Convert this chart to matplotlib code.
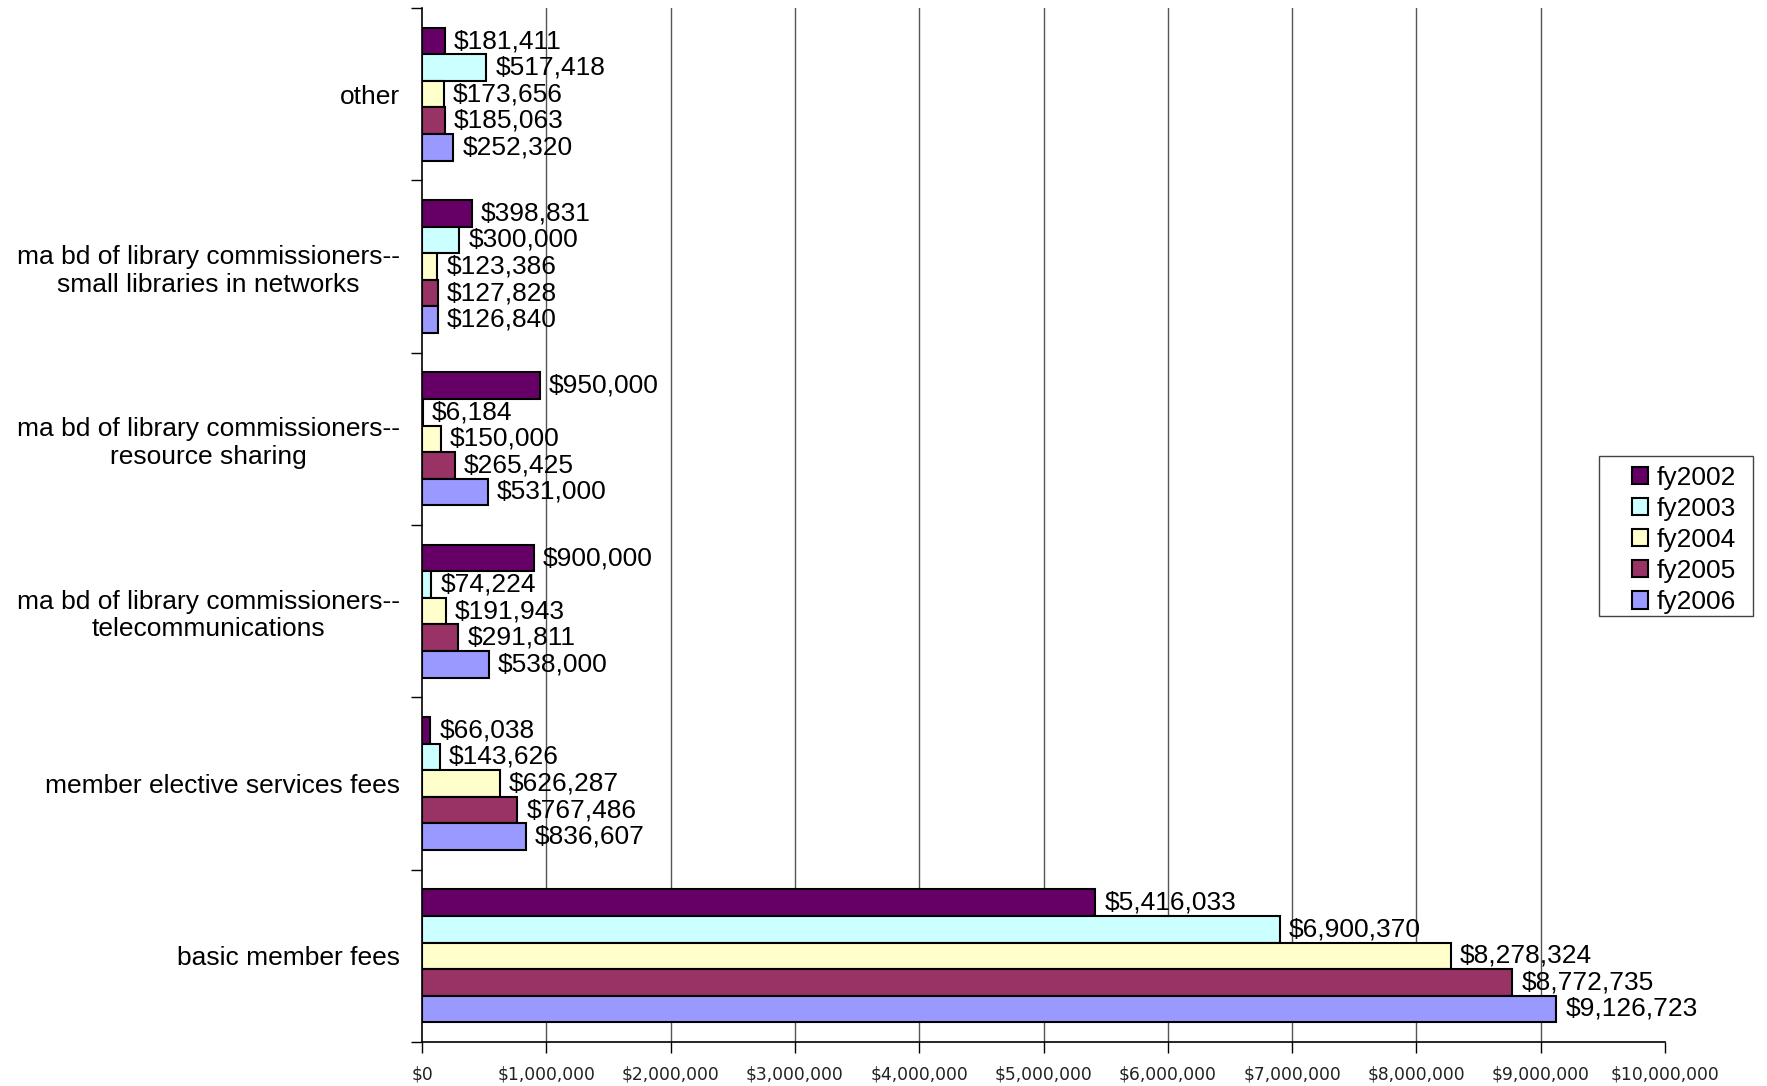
import matplotlib
matplotlib.use('Agg')
import matplotlib.pyplot as plt
import matplotlib.patches as mpatches
import numpy as np
from matplotlib.ticker import FuncFormatter, FixedLocator

# categories bottom to top
categories = ['basic member fees',
              'member elective services fees',
              'ma bd of library commissioners--\ntelecommunications',
              'ma bd of library commissioners--\nresource sharing',
              'ma bd of library commissioners--\nsmall libraries in networks',
              'other']
years = ['fy2002', 'fy2003', 'fy2004', 'fy2005', 'fy2006']
fy2002 = [5416033, 66038, 900000, 950000, 398831, 181411]
fy2003 = [6900370, 143626, 74224, 6184, 300000, 517418]
fy2004 = [8278324, 626287, 191943, 150000, 123386, 173656]
fy2005 = [8772735, 767486, 291811, 265425, 127828, 185063]
fy2006 = [9126723, 836607, 538000, 531000, 126840, 252320]
series = [fy2002, fy2003, fy2004, fy2005, fy2006]
colors = ['#660066', '#CCFFFF', '#FFFFCC', '#993366', '#9999FF']

plt.rcParams['font.family'] = ['Liberation Sans', 'DejaVu Sans']

W, H = 1767, 1086
fig = plt.figure(figsize=(W / 100, H / 100), dpi=100)
ax = fig.add_axes([422 / W, 1 - 1042 / H, (1665 - 422) / W, (1042 - 8) / H])

y = np.arange(len(categories))
h = 0.154
for k, (vals, col, lab) in enumerate(zip(series, colors, years)):
    pos = y + (2 - k) * h
    ax.barh(pos, vals, height=h, color=col, edgecolor='black',
            linewidth=1.5, label=lab, zorder=3)
    for yy, v in zip(pos, vals):
        ax.annotate('${:,}'.format(v), (v, yy), xytext=(6.5, 0),
                    textcoords='offset points', va='center', ha='left',
                    fontsize=19, zorder=4, annotation_clip=False)

ax.set_xlim(0, 10000000)
ax.set_ylim(-0.5, len(categories) - 0.5)

ax.xaxis.set_major_locator(FixedLocator(np.arange(0, 10000001, 1000000)))
ax.xaxis.set_major_formatter(FuncFormatter(lambda v, p: '${:,.0f}'.format(v)))
ax.tick_params(axis='x', direction='out', length=8, width=1, pad=9,
               labelsize=12.3)
for t in ax.get_xticklabels():
    t.set_family(['Liberation Sans Narrow', 'DejaVu Sans Condensed', 'DejaVu Sans'])
    t.set_color('#222222')

ax.set_yticks(y)
ax.set_yticklabels(categories, fontsize=19, multialignment='center')
ax.set_yticks(np.arange(-0.5, len(categories), 1.0), minor=True)
ax.tick_params(axis='y', which='major', length=0, pad=16)
ax.tick_params(axis='y', which='minor', direction='out', length=8, width=1)

# vertical grid lines only, none on the last tick
for gx in range(1000000, 10000000, 1000000):
    ax.axvline(gx, color='#555555', linewidth=1, zorder=1)

ax.spines['top'].set_visible(False)
ax.spines['right'].set_visible(False)
ax.spines['left'].set_linewidth(1.2)
ax.spines['bottom'].set_linewidth(1.2)

# legend frame drawn separately (Excel style, wide left padding)
frame = mpatches.Rectangle((1599 / W, 1 - 616 / H), (1753 - 1599) / W, 160 / H,
                           transform=fig.transFigure, facecolor='white',
                           edgecolor='#444444', linewidth=1.0, zorder=5)
fig.patches.append(frame)
leg = fig.legend(loc='center left', bbox_to_anchor=(1632 / W, 1 - 540 / H),
                 fontsize=19, frameon=False,
                 handlelength=0.62, handleheight=0.62, handletextpad=0.32,
                 labelspacing=0.27, borderpad=0, borderaxespad=0)
leg.set_zorder(6)
for hnd in leg.legend_handles:
    hnd.set_linewidth(1.5)

fig.savefig('out.png', dpi=100, facecolor='white')
